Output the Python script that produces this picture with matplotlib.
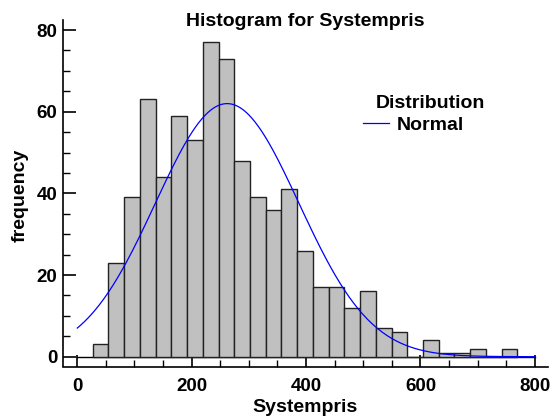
import numpy as np
import matplotlib
matplotlib.use('AGG')
import matplotlib.pyplot as plt
from matplotlib.ticker import MultipleLocator

plt.rcParams['font.family'] = ['Liberation Sans', 'DejaVu Sans']
plt.rcParams['font.weight'] = 'bold'

# histogram bins (start, width) and counts
bin_start = 27.0
bin_width = 27.5
counts = [3, 23, 39, 63, 44, 59, 53, 77, 73, 48, 39, 36, 41, 26,
          17, 17, 12, 16, 7, 6, 0, 4, 1, 1, 2, 0, 2]
# fitted normal distribution
norm_mean = 262.0
norm_sd = 125.5

edges = bin_start + bin_width * np.arange(len(counts) + 1)
n_total = sum(counts)

fig = plt.figure(figsize=(5.5, 4.17), dpi=100)
ax = fig.add_axes([63/550, 1 - 366.5/417, (548 - 63)/550, (366.5 - 20)/417])

ax.hist(edges[:-1], bins=edges, weights=counts, color='#c0c0c0',
        edgecolor='#222222', linewidth=1.0, zorder=2)

# baseline at zero
ax.plot([0, 800], [0, 0], color='black', linewidth=1.0, zorder=1)

xs = np.linspace(0, 800, 400)
ys = n_total * bin_width / (norm_sd * np.sqrt(2 * np.pi)) * np.exp(-0.5 * ((xs - norm_mean) / norm_sd) ** 2)
ax.plot(xs, ys, color='#0000ff', linewidth=0.9, label='Normal', zorder=3)

ax.set_xlim(-25, 823)
ax.set_ylim(-2.4, 82.45)
ax.xaxis.set_major_locator(MultipleLocator(200))
ax.xaxis.set_minor_locator(MultipleLocator(50))
ax.yaxis.set_major_locator(MultipleLocator(20))
ax.yaxis.set_minor_locator(MultipleLocator(5))
ax.tick_params(which='major', direction='in', length=9, width=1.2, labelsize=13.5, color='black')
ax.tick_params(which='minor', direction='in', length=5, width=1.0, color='black')
ax.tick_params(axis='x', pad=8)
ax.tick_params(axis='y', pad=4)
for lab in ax.get_xticklabels() + ax.get_yticklabels():
    lab.set_fontweight('bold')

ax.spines['right'].set_visible(False)
ax.spines['top'].set_visible(False)
ax.spines['left'].set_linewidth(1.2)
ax.spines['bottom'].set_linewidth(1.2)

# legend entry, title drawn separately so it sits like the original
leg = ax.legend(loc='center left', bbox_to_anchor=(363/550, 1 - 125/417),
                bbox_transform=fig.transFigure, frameon=False, fontsize=14,
                handlelength=1.34, handletextpad=0.41,
                borderpad=0, borderaxespad=0)
for t in leg.get_texts():
    t.set_fontweight('bold')
fig.text(430/550, 1 - 104/417, 'Distribution', ha='center', va='center',
         fontsize=14, fontweight='bold')

fig.text(305/550, 1 - 22/417, 'Histogram for Systempris', ha='center', va='center',
         fontsize=14, fontweight='bold')
fig.text(20/550, 1 - 195/417, 'frequency', ha='center', va='center', rotation=90,
         fontsize=14, fontweight='bold')
fig.text(305/550, 1 - 407/417, 'Systempris', ha='center', va='center',
         fontsize=14, fontweight='bold')

fig.savefig('out.png', dpi=100)
